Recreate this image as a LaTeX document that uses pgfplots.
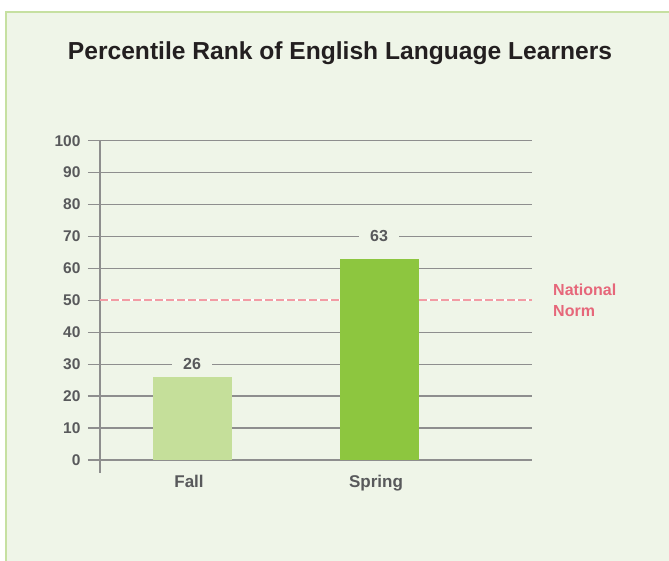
\documentclass[border=0pt]{standalone}
\usepackage{fontspec}
\setmainfont{Liberation Sans}
\usepackage{pgfplots}
\pgfplotsset{compat=1.18}
\definecolor{bg}{HTML}{EFF5E8}
\definecolor{border}{HTML}{C6E0A1}
\definecolor{titlec}{HTML}{231F20}
\definecolor{tickc}{HTML}{58595B}
\definecolor{gridc}{HTML}{8E8E8E}
\definecolor{fallc}{HTML}{C5DF9A}
\definecolor{springc}{HTML}{8DC63F}
\definecolor{normline}{HTML}{F29CA4}
\definecolor{normtext}{HTML}{E6677A}
\begin{document}
\begin{tikzpicture}[x=1pt,y=1pt]
\useasboundingbox (0,0) rectangle (669,561);
\fill[white] (0,0) rectangle (669,561);
\fill[bg] (6,0) rectangle (669,549);
\draw[border, line width=2.5pt] (6.2,0) -- (6.2,548.8) -- (669,548.8);
\node[font=\fontsize{24.6}{28}\selectfont\bfseries, text=titlec, anchor=base, inner sep=0pt] at (340,501) {Percentile Rank of English Language Learners};
\begin{axis}[
  at={(100pt,88pt)}, anchor=south west,
  scale only axis, width=432pt, height=332.3pt,
  xmin=-0.492, xmax=1.818, ymin=-4.07, ymax=100,
  axis lines*=left,
  x axis line style={draw=none},
  y axis line style={draw=gridc, line width=1.3pt, -},
  ytick={0,10,...,100},
  ymajorgrids,
  major grid style={draw=gridc, line width=1.3pt},
  tick align=outside,
  major tick length=12pt,
  ytick style={draw=gridc, line width=1.3pt},
  xtick={0,1}, xticklabels={Fall,Spring},
  xtick style={draw=none},
  /pgf/number format/assume math mode=true,
  yticklabel style={font=\fontsize{15.5}{17}\selectfont\bfseries, text=tickc, xshift=-4pt},
  xticklabel style={font=\fontsize{17}{19}\selectfont\bfseries, text=tickc, xshift=-3pt, yshift=13pt},
  clip=false,
]
\addplot[white, line width=2.3pt] coordinates {(-0.492,50) (1.818,50)};
\addplot[normline, line width=2.3pt, dash pattern=on 8pt off 3pt] coordinates {(-0.492,50) (1.818,50)};
\addplot[ybar, bar width=79pt, bar shift=0pt, fill=fallc, draw=none] coordinates {(0,26)};
\addplot[ybar, bar width=79pt, bar shift=0pt, fill=springc, draw=none] coordinates {(1,63)};
\addplot[draw=none, mark=none, nodes near coords, point meta=explicit symbolic,
  every node near coord/.style={anchor=center, fill=bg, inner xsep=11pt, inner ysep=2pt, font=\fontsize{16}{18}\selectfont\bfseries, text=tickc}]
  coordinates {(0,30) [26] (1,70) [63]};
\node[anchor=west, align=left, inner sep=0pt, font=\fontsize{16}{21}\selectfont\bfseries, text=normtext] at (axis cs:1.818,50) [xshift=21pt] {National\\Norm};
\end{axis}
\end{tikzpicture}
\end{document}
